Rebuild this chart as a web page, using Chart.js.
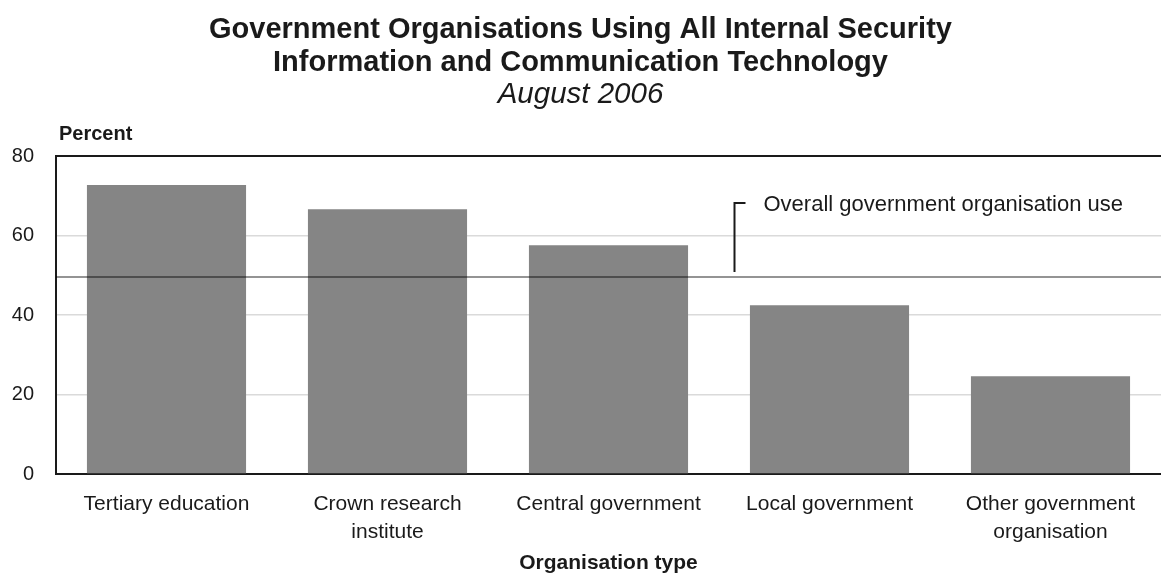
<!DOCTYPE html>
<html>
<head>
<meta charset="utf-8">
<script src="https://cdn.jsdelivr.net/npm/chart.js@4.4.1/dist/chart.umd.min.js"></script>
<style>
  html, body { margin: 0; padding: 0; background: #ffffff; }
  #wrap { width: 1161px; height: 576px; }
</style>
</head>
<body>
<div id="wrap"><canvas id="chart"></canvas></div>
<script>
// Share of government organisations using all internal security ICT, by organisation type
const categories = [
  ['Tertiary education'],
  ['Crown research', 'institute'],
  ['Central government'],
  ['Local government'],
  ['Other government', 'organisation']
];
const percentUsing = [72.8, 66.7, 57.6, 42.5, 24.6];
const overallUse = 49.6;
const overallLabel = 'Overall government organisation use';
const yTicks = [0, 20, 40, 60, 80];

const FONT = '"Liberation Sans", Arial, Helvetica, sans-serif';
const INK = '#1a1a1a';

// Horizontal reference line for the overall figure, with its bracketed label
const overallLine = {
  id: 'overallLine',
  afterDatasetsDraw(chart) {
    const { ctx, chartArea, scales } = chart;
    const y = scales.y.getPixelForValue(overallUse);
    ctx.save();
    ctx.strokeStyle = 'rgba(0,0,0,0.42)';
    ctx.lineWidth = 2;
    ctx.beginPath();
    ctx.moveTo(chartArea.left, y);
    ctx.lineTo(chartArea.right, y);
    ctx.stroke();

    // leader bracket just right of the gap between the 3rd and 4th categories
    const xLead = Math.round(scales.x.getPixelForValue(2.57)) + 0.5;
    const topY = Math.round(scales.y.getPixelForValue(68.2));
    ctx.strokeStyle = '#1a1a1a';
    ctx.lineWidth = 2;
    ctx.beginPath();
    ctx.moveTo(xLead, y - 5);
    ctx.lineTo(xLead, topY);
    ctx.lineTo(xLead + 11, topY);
    ctx.stroke();

    ctx.fillStyle = INK;
    ctx.font = '22px ' + FONT;
    ctx.textAlign = 'left';
    ctx.textBaseline = 'middle';
    ctx.fillText(overallLabel, xLead + 29, topY + 2);
    ctx.restore();
  }
};

// Unit caption above the value axis
const unitCaption = {
  id: 'unitCaption',
  afterDraw(chart) {
    const { ctx, chartArea } = chart;
    ctx.save();
    ctx.fillStyle = INK;
    ctx.font = 'bold 20px ' + FONT;
    ctx.textAlign = 'left';
    ctx.textBaseline = 'middle';
    ctx.fillText('Percent', 59, chartArea.top - 22);
    ctx.restore();
  }
};

new Chart(document.getElementById('chart'), {
  type: 'bar',
  data: {
    labels: categories,
    datasets: [{
      data: percentUsing,
      backgroundColor: '#858585',
      borderWidth: 0,
      barPercentage: 0.72,
      categoryPercentage: 1.0
    }]
  },
  options: {
    responsive: true,
    maintainAspectRatio: false,
    animation: false,
    layout: { padding: { left: 0, right: 0, top: 0, bottom: 0 } },
    plugins: {
      legend: { display: false },
      tooltip: { enabled: false },
      title: {
        display: true,
        text: ['Government Organisations Using All Internal Security',
               'Information and Communication Technology'],
        color: INK,
        font: { family: FONT, size: 29, weight: 'bold', lineHeight: 1.12 },
        padding: { top: 14, bottom: 0 }
      },
      subtitle: {
        display: true,
        text: 'August 2006',
        color: INK,
        font: { family: FONT, size: 29.5, style: 'italic', lineHeight: 1.1 },
        padding: { top: 0, bottom: 45 }
      }
    },
    scales: {
      x: {
        grid: { display: false },
        border: { display: true, color: '#1a1a1a', width: 2 },
        ticks: {
          color: INK,
          font: { family: FONT, size: 21, lineHeight: 1.33 },
          padding: 8,
          maxRotation: 0,
          autoSkip: false
        },
        title: {
          display: true,
          text: 'Organisation type',
          color: INK,
          font: { family: FONT, size: 21, weight: 'bold' },
          padding: { top: 4, bottom: 0 }
        },
        afterFit(s) { s.height = 102; }
      },
      y: {
        min: 0,
        max: 80,
        afterBuildTicks(s) { s.ticks = yTicks.map(v => ({ value: v })); },
        grid: {
          drawTicks: false,
          color: ctx => (ctx.tick && ctx.tick.value === 80) ? '#1a1a1a' : '#dadada',
          lineWidth: ctx => (ctx.tick && ctx.tick.value === 80) ? 2 : 1.5
        },
        border: { display: true, color: '#1a1a1a', width: 2 },
        ticks: {
          color: INK,
          font: { family: FONT, size: 20 },
          padding: 22
        },
        afterFit(s) { s.width = 56; }
      }
    }
  },
  plugins: [overallLine, unitCaption]
});
</script>
</body>
</html>
